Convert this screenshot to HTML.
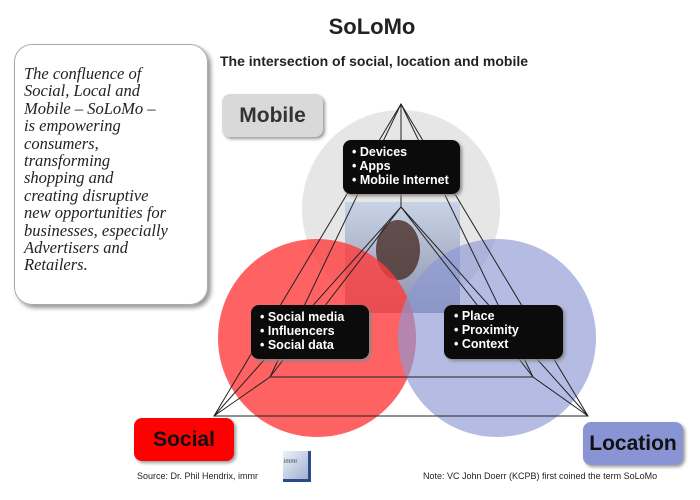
<!DOCTYPE html>
<html><head><style>
body{margin:0;width:700px;height:500px;background:#fff;position:relative;overflow:hidden;font-family:"Liberation Sans",sans-serif}
.a{position:absolute}
.box{position:absolute;background:#0b0b0b;color:#fff;border-radius:8px;font-size:12.5px;font-weight:bold;line-height:14px;padding:5px 0 0 9px;box-sizing:border-box;box-shadow:2px 2px 3px #888;white-space:nowrap}
.lab{position:absolute;border-radius:8px;font-weight:bold;font-size:21px;text-align:center;box-shadow:2px 2px 3px #999}
</style></head><body>
<div class="a" style="left:322px;width:100px;top:14px;text-align:center;font-size:22px;font-weight:bold;color:#222">SoLoMo</div>
<div class="a" style="left:220px;top:53px;font-size:14px;font-weight:bold;color:#222">The intersection of social, location and mobile</div>
<div class="a" style="left:14px;top:44px;width:194px;height:261px;border:1px solid #aaa;border-radius:18px;box-sizing:border-box;box-shadow:3px 3px 4px #999;padding:20px 0 0 9px;font-family:'Liberation Serif',serif;font-style:italic;font-size:16.5px;line-height:17.4px;color:#222;white-space:nowrap">The confluence of<br>Social, Local and<br>Mobile – SoLoMo –<br>is empowering<br>consumers,<br>transforming<br>shopping and<br>creating disruptive<br>new opportunities for<br>businesses, especially<br>Advertisers and<br>Retailers.</div>
<svg class="a" style="left:0;top:0" width="700" height="500">
<defs><linearGradient id="p" x1="0" y1="0" x2="0" y2="1"><stop offset="0" stop-color="#c9d3e6"/><stop offset="1" stop-color="#8b93ad"/></linearGradient></defs>
<circle cx="401" cy="209" r="99" fill="#e6e6e6"/>
<rect x="345" y="202" width="115" height="111" fill="url(#p)"/>
<ellipse cx="398" cy="250" rx="22" ry="30" fill="#4a3028" opacity=".8"/>
<circle cx="317" cy="338" r="99" fill="#ff3b3b" opacity=".8"/>
<circle cx="497" cy="338" r="99" fill="#8c98d6" opacity=".65"/>
<g stroke="#222" stroke-width="1" fill="none">
<polygon points="401,104 214,416 588,416"/>
<polygon points="401,207 270,377 533,377"/>
<line x1="401" y1="104" x2="401" y2="207"/>
<line x1="401" y1="104" x2="270" y2="377"/>
<line x1="401" y1="104" x2="533" y2="377"/>
<line x1="214" y1="416" x2="401" y2="207"/>
<line x1="588" y1="416" x2="401" y2="207"/>
<line x1="214" y1="416" x2="270" y2="377"/>
<line x1="588" y1="416" x2="533" y2="377"/>
</g>
</svg>
<div class="box" style="left:343px;top:140px;width:117px;height:54px">• Devices<br>• Apps<br>• Mobile Internet</div>
<div class="box" style="left:251px;top:305px;width:118px;height:54px;padding-left:9px">• Social media<br>• Influencers<br>• Social data</div>
<div class="box" style="left:444px;top:305px;width:119px;height:54px;padding-left:10px;padding-top:4px">• Place<br>• Proximity<br>• Context</div>
<div class="lab" style="left:222px;top:94px;width:101px;height:43px;line-height:43px;background:#d9d9d9;color:#333">Mobile</div>
<div class="lab" style="left:134px;top:418px;width:100px;height:43px;line-height:43px;background:#ff0000;color:#111">Social</div>
<div class="lab" style="left:583px;top:422px;width:100px;height:43px;line-height:43px;background:#8894d4;color:#111">Location</div>
<div class="a" style="left:137px;top:471px;font-size:9px;color:#222">Source: Dr. Phil Hendrix, immr</div>
<div class="a" style="left:283px;top:451px;width:28px;height:31px;background:linear-gradient(135deg,#eef2f8,#9fb0cf);border-right:3px solid #2a4a8a;border-bottom:3px solid #2a4a8a;box-sizing:border-box;font-size:6px;color:#345;padding:8px 0 0 1px">immr</div>
<div class="a" style="left:423px;top:471px;font-size:9px;color:#222">Note: VC John Doerr (KCPB) first coined the term SoLoMo</div>
</body></html>
